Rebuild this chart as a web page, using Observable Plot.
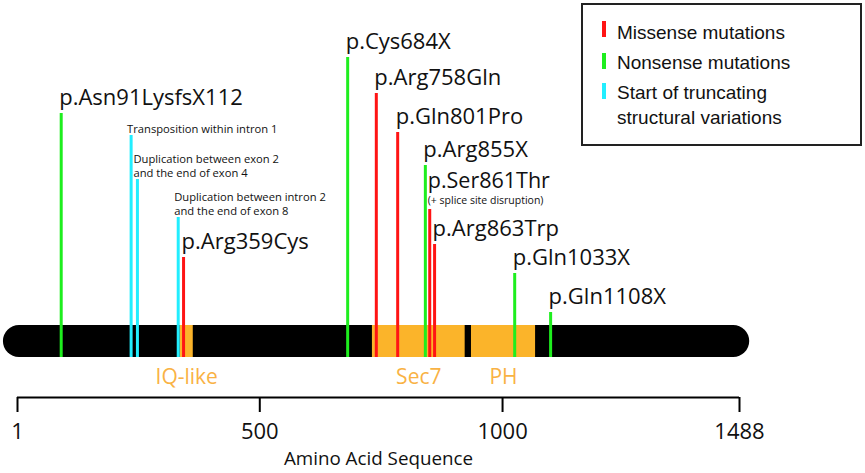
<!DOCTYPE html>
<html>
<head>
<meta charset="utf-8">
<script src="https://cdn.jsdelivr.net/npm/d3@7"></script>
<script src="https://cdn.jsdelivr.net/npm/@observablehq/plot@0.6"></script>
<style>
  body { margin: 0; background: #fff; }
  #wrap { position: relative; width: 865px; height: 473px; }
  #legend { position: absolute; left: 581px; top: 3px; width: 281px; height: 143px; box-sizing: border-box;
            border: 2px solid #222; background: #fff; font-family: "Liberation Sans", Arial, sans-serif;
            font-size: 19px; color: #111; }
  #legend .row { position: absolute; left: 34px; line-height: 25px; white-space: nowrap; }
  #legend .sw { position: absolute; left: 19px; width: 4px; height: 16px; }
</style>
</head>
<body>
<div id="wrap"></div>
<script>
// ---- data ----
const ticks = [1, 500, 1000, 1488];
const proteinSpan = [-28, 1509];

const domainNames = ["IQ-like", "Sec7", "PH"];
const domainStart = [336, 732, 936];
const domainEnd = [363, 923, 1068];

const mutationLabels = ["p.Asn91LysfsX112", "p.Arg359Cys", "p.Cys684X", "p.Arg758Gln", "p.Gln801Pro",
                        "p.Arg855X", "p.Ser861Thr", "p.Arg863Trp", "p.Gln1033X", "p.Gln1108X"];
const mutationTypes = ["Nonsense", "Missense", "Nonsense", "Missense", "Missense",
                       "Nonsense", "Missense", "Missense", "Nonsense", "Nonsense"];
const mutationPositions = [91, 343, 681, 740, 784, 841, 850, 860, 1025, 1099];
const mutationHeights = [244, 100, 300, 264, 225, 192, 148, 113, 84, 45];
const mutationNotes = ["", "", "", "", "", "", "(+ splice site disruption)", "", "", ""];

const svLabels = ["Transposition within intron 1",
                  "Duplication between exon 2\nand the end of exon 4",
                  "Duplication between intron 2\nand the end of exon 8"];
const svPositions = [235, 248, 332];
const svHeights = [222, 178, 140];

const legendLabels = ["Missense mutations", "Nonsense mutations", "Start of truncating\nstructural variations"];
const legendKeys = ["Missense", "Nonsense", "Structural"];
const typeColors = {Missense: "#ff1414", Nonsense: "#1eee1e", Structural: "#22eeff"};
const domainFill = "#fbb42a";
const domainText = "#f9b244";

// ---- tables ----
const domains = domainNames.map((name, i) => ({name, start: domainStart[i], end: domainEnd[i]}));
const mutations = mutationLabels.map((label, i) => ({
  label, type: mutationTypes[i], pos: mutationPositions[i], h: mutationHeights[i], note: mutationNotes[i]
}));
const svs = svLabels.map((label, i) => ({label, type: "Structural", pos: svPositions[i], h: svHeights[i]}));
const stems = [...svs, ...mutations];

const font = "'Open Sans', Lato, sans-serif";

const chart = Plot.plot({
  width: 865,
  height: 473,
  marginLeft: 17,
  marginRight: 126,
  marginTop: 0,
  marginBottom: 76,
  style: {fontFamily: font, background: "transparent", overflow: "visible"},
  x: {domain: [ticks[0], ticks[ticks.length - 1]], axis: null},
  y: {domain: [-40, 357], axis: null},
  marks: [
    // protein backbone
    Plot.rect([proteinSpan], {x1: d => d[0], x2: d => d[1], y1: 0, y2: 32, fill: "#000", rx: 16}),
    // domains
    Plot.rect(domains, {x1: "start", x2: "end", y1: 0, y2: 32, fill: domainFill}),
    Plot.text(domains, {x: d => (d.start + d.end) / 2, y: -20, text: "name", fill: domainText,
                        fontSize: 21, lineAnchor: "middle"}),
    // stems
    Plot.ruleX(stems, {x: "pos", y1: 0, y2: "h", stroke: d => typeColors[d.type], strokeWidth: 3}),
    // mutation labels
    Plot.text(mutations.filter(d => !d.note), {x: "pos", y: "h", text: "label", textAnchor: "start",
              lineAnchor: "bottom", dx: -2, dy: -9, fontSize: 22, fill: "#111"}),
    Plot.text(mutations.filter(d => d.note), {x: "pos", y: "h", text: "label", textAnchor: "start",
              lineAnchor: "bottom", dx: -2, dy: -22, fontSize: 21.5, fill: "#111"}),
    Plot.text(mutations.filter(d => d.note), {x: "pos", y: "h", text: "note", textAnchor: "start",
              lineAnchor: "bottom", dx: -2, dy: -6, fontSize: 10.5, fill: "#111"}),
    // structural variation labels
    Plot.text(svs, {x: "pos", y: "h", text: "label", textAnchor: "start", lineAnchor: "bottom",
              dx: -4, dy: -3, fontSize: 11.2, lineHeight: 1.22, fill: "#111"}),
    // axis
    Plot.ruleY([-40], {x1: ticks[0], x2: ticks[ticks.length - 1], stroke: "#000", strokeWidth: 2}),
    Plot.axisX({ticks, tickSize: 15, tickPadding: 11, fontSize: 22, tickFormat: d => String(d),
                strokeWidth: 2, stroke: "#000", fill: "#111", label: null}),
    Plot.text(["Amino Acid Sequence"], {frameAnchor: "bottom", dy: 61, fontSize: 18.8, fill: "#111",
              lineAnchor: "middle"})
  ]
});

const wrap = document.getElementById("wrap");
wrap.appendChild(chart);

// legend (overlay, top right)
const legend = document.createElement("div");
legend.id = "legend";
const rowTops = [14.5, 44.5, 74.5];
const swTops = [16, 48, 78];
legendLabels.forEach((lab, i) => {
  const sw = document.createElement("div");
  sw.className = "sw";
  sw.style.top = swTops[i] + "px";
  sw.style.background = typeColors[legendKeys[i]];
  legend.appendChild(sw);
  const row = document.createElement("div");
  row.className = "row";
  row.style.top = rowTops[i] + "px";
  row.innerHTML = lab.split("\n").join("<br>");
  legend.appendChild(row);
});
wrap.appendChild(legend);
</script>
</body>
</html>
